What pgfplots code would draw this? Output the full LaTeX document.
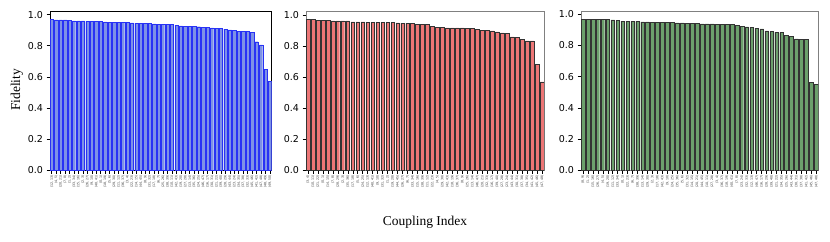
\documentclass[border=0pt]{standalone}
\usepackage{pgfplots}
\pgfplotsset{compat=1.18}
\usepackage{pgfplotstable}
\usepackage{fontspec}
\setmainfont{Liberation Serif}
\newfontfamily\dejavu{DejaVu Sans}
\definecolor{bfill}{RGB}{126,146,230}
\definecolor{bedge}{RGB}{40,50,245}
\definecolor{rfill}{RGB}{236,118,118}
\definecolor{gfill}{RGB}{108,160,108}

\pgfplotstableread{
x y
0 0.970
1 0.966
2 0.966
3 0.966
4 0.961
5 0.960
6 0.959
7 0.959
8 0.957
9 0.956
10 0.955
11 0.955
12 0.953
13 0.952
14 0.951
15 0.951
16 0.949
17 0.949
18 0.947
19 0.945
20 0.944
21 0.942
22 0.942
23 0.940
24 0.939
25 0.938
26 0.938
27 0.936
28 0.932
29 0.928
30 0.926
31 0.926
32 0.925
33 0.922
34 0.920
35 0.918
36 0.914
37 0.910
38 0.910
39 0.906
40 0.902
41 0.897
42 0.893
43 0.893
44 0.891
45 0.888
46 0.826
47 0.805
48 0.649
49 0.574
}\tblA

\pgfplotstableread{
x y
0 0.972
1 0.972
2 0.964
3 0.964
4 0.964
5 0.962
6 0.961
7 0.961
8 0.961
9 0.955
10 0.955
11 0.955
12 0.953
13 0.953
14 0.953
15 0.953
16 0.951
17 0.951
18 0.949
19 0.947
20 0.945
21 0.945
22 0.940
23 0.939
24 0.938
25 0.925
26 0.921
27 0.921
28 0.917
29 0.916
30 0.916
31 0.916
32 0.915
33 0.913
34 0.907
35 0.901
36 0.901
37 0.897
38 0.891
39 0.884
40 0.880
41 0.859
42 0.857
43 0.842
44 0.833
45 0.833
46 0.682
47 0.570
}\tblB

\pgfplotstableread{
x y
0 0.966
1 0.964
2 0.964
3 0.964
4 0.964
5 0.964
6 0.962
7 0.958
8 0.954
9 0.954
10 0.952
11 0.952
12 0.949
13 0.949
14 0.947
15 0.947
16 0.947
17 0.945
18 0.945
19 0.943
20 0.943
21 0.941
22 0.940
23 0.938
24 0.936
25 0.936
26 0.936
27 0.934
28 0.934
29 0.934
30 0.932
31 0.926
32 0.921
33 0.917
34 0.915
35 0.909
36 0.904
37 0.892
38 0.887
39 0.883
40 0.881
41 0.862
42 0.857
43 0.840
44 0.838
45 0.836
46 0.563
47 0.550
}\tblC

\pgfplotsset{
  panel/.style={
    scale only axis,
    anchor=south west,
    height=158.8pt,
    ymin=0,
    ytick={0,0.2,0.4,0.6,0.8,1.0},
    yticklabel style={font=\dejavu\fontsize{9.5}{11}\selectfont},
    /pgf/number format/assume math mode=true,
    /pgf/number format/fixed,
    /pgf/number format/fixed zerofill,
    /pgf/number format/precision=1,
    xtick=data,
    x tick label style={rotate=90, anchor=east, font=\dejavu\fontsize{3.2}{3.6}\selectfont, inner sep=0.6pt, text=black!80},
    major tick length=3.5pt,
    tick style={black, line width=0.6pt},
    tick align=outside,
    xtick pos=bottom, ytick pos=left,
    axis line style={line width=0.7pt},
    ybar, bar width=0.75,
  },
}

\begin{document}
\begin{tikzpicture}
\useasboundingbox (0,0) rectangle (830pt,241pt);

\begin{axis}[panel,
  at={(50pt,70.5pt)}, width=221.7pt,
  xmin=-0.4, xmax=49.4, ymax=1.0185,
  axis line style={black, line width=0.7pt},
  xticklabels={{(12, 13)},{(4, 5)},{(20, 21)},{(7, 8)},{(1, 2)},{(33, 34)},{(15, 16)},{(2, 3)},{(26, 27)},{(9, 10)},
    {(40, 41)},{(0, 1)},{(18, 19)},{(5, 6)},{(29, 30)},{(11, 12)},{(36, 37)},{(3, 4)},{(22, 23)},{(14, 15)},
    {(44, 45)},{(8, 9)},{(31, 32)},{(17, 18)},{(6, 7)},{(25, 26)},{(38, 39)},{(10, 11)},{(42, 43)},{(19, 20)},
    {(27, 28)},{(13, 14)},{(35, 36)},{(24, 25)},{(46, 47)},{(16, 17)},{(30, 31)},{(21, 22)},{(39, 40)},{(28, 29)},
    {(43, 44)},{(23, 24)},{(34, 35)},{(37, 38)},{(32, 33)},{(45, 46)},{(41, 42)},{(47, 48)},{(48, 49)},{(49, 50)}},
]
\addplot[draw=bedge, fill=bfill, line width=0.35pt] table[x=x,y=y] {\tblA};
\end{axis}

\begin{axis}[panel,
  at={(306pt,70.5pt)}, width=238pt,
  xmin=-0.4, xmax=47.4, ymax=1.0206,
  axis line style={gray, line width=0.7pt},
  xticklabels={{(3, 4)},{(10, 11)},{(21, 22)},{(0, 1)},{(14, 15)},{(7, 8)},{(28, 29)},{(2, 3)},{(35, 36)},{(17, 18)},
    {(5, 6)},{(24, 25)},{(12, 13)},{(40, 41)},{(9, 10)},{(31, 32)},{(1, 2)},{(19, 20)},{(44, 45)},{(26, 27)},
    {(6, 7)},{(33, 34)},{(15, 16)},{(38, 39)},{(11, 12)},{(22, 23)},{(4, 5)},{(29, 30)},{(42, 43)},{(18, 19)},
    {(36, 37)},{(8, 9)},{(25, 26)},{(13, 14)},{(46, 47)},{(20, 21)},{(32, 33)},{(16, 17)},{(39, 40)},{(27, 28)},
    {(23, 24)},{(43, 44)},{(30, 31)},{(37, 38)},{(34, 35)},{(41, 42)},{(45, 46)},{(47, 48)}},
]
\addplot[draw=black!80, fill=rfill, line width=0.4pt] table[x=x,y=y] {\tblB};
\end{axis}

\begin{axis}[panel,
  at={(581pt,70.5pt)}, width=237.3pt,
  xmin=-0.4, xmax=47.4, ymax=1.0143,
  axis line style={gray, line width=0.7pt},
  xticklabels={{(8, 9)},{(1, 2)},{(15, 16)},{(26, 27)},{(4, 5)},{(19, 20)},{(11, 12)},{(33, 34)},{(0, 1)},{(22, 23)},
    {(6, 7)},{(38, 39)},{(13, 14)},{(29, 30)},{(2, 3)},{(17, 18)},{(42, 43)},{(9, 10)},{(24, 25)},{(35, 36)},
    {(5, 6)},{(31, 32)},{(14, 15)},{(20, 21)},{(44, 45)},{(10, 11)},{(27, 28)},{(3, 4)},{(36, 37)},{(18, 19)},
    {(40, 41)},{(7, 8)},{(23, 24)},{(32, 33)},{(12, 13)},{(46, 47)},{(16, 17)},{(28, 29)},{(39, 40)},{(21, 22)},
    {(34, 35)},{(25, 26)},{(43, 44)},{(30, 31)},{(37, 38)},{(41, 42)},{(45, 46)},{(47, 48)}},
]
\addplot[draw=black!80, fill=gfill, line width=0.4pt] table[x=x,y=y] {\tblC};
\end{axis}

\node[rotate=90, font=\fontsize{13.5}{15}\selectfont] at (17pt,151pt) {Fidelity};
\node[font=\fontsize{13.5}{15}\selectfont] at (425pt,19pt) {Coupling Index};
\end{tikzpicture}
\end{document}
